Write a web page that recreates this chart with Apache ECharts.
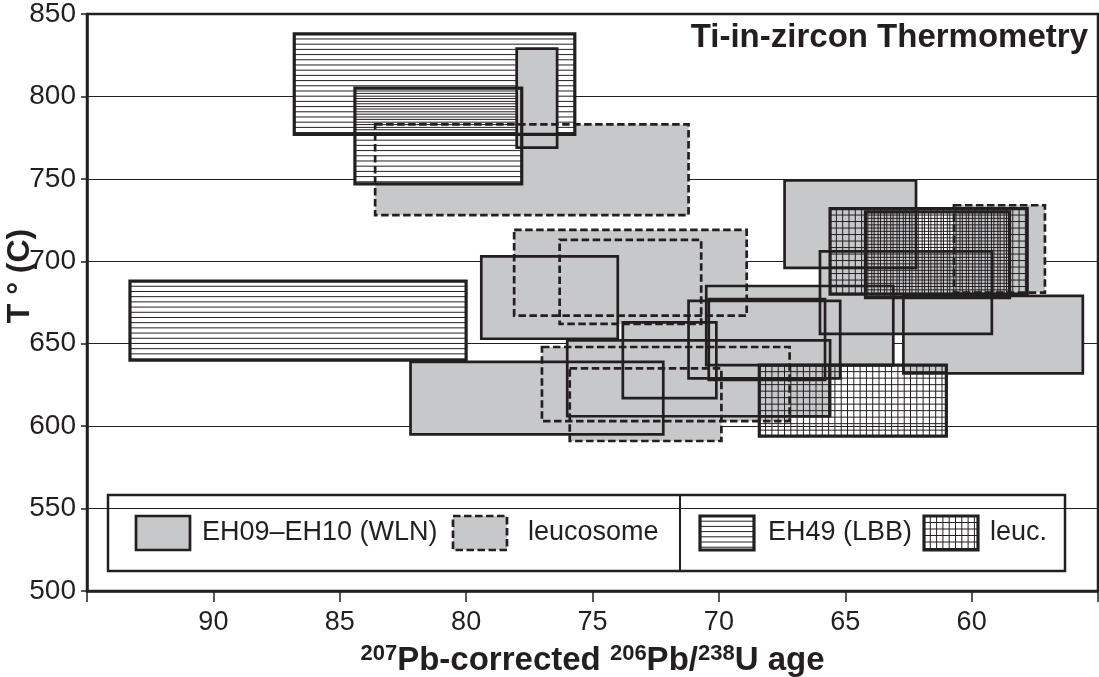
<!DOCTYPE html>
<html>
<head>
<meta charset="utf-8">
<script src="https://cdn.jsdelivr.net/npm/echarts@6/dist/echarts.min.js"></script>
<style>
  html, body { margin: 0; padding: 0; background: #fff; }
  #chart { width: 1099px; height: 677px; }
</style>
</head>
<body>
<div id="chart"></div>
<script>
// Ti-in-zircon temperature windows per zircon population:
// each entry is [youngest age, oldest age, T min, T max] (Ma, °C)
const wlnBoxes = [
  [76.4, 78.0, 769, 829],
  [62.2, 67.4, 696, 749],
  [74.0, 79.4, 653, 703],
  [72.2, 82.2, 595, 639],
  [65.6, 76.0, 606, 652],
  [70.1, 73.8, 617, 663],
  [65.2, 71.2, 629, 676],
  [63.1, 70.5, 637, 685],
  [65.8, 70.4, 628, 677],
  [59.2, 66.0, 656, 706],
  [55.6, 62.7, 632, 679]
];
const wlnLeucosomeBoxes = [
  [71.2, 83.6, 728, 783],
  [68.9, 78.1, 667, 719],
  [70.7, 76.3, 662, 713],
  [67.2, 77.0, 603, 648],
  [69.9, 75.9, 591, 635],
  [57.1, 60.7, 681, 734]
];
const lbbBoxes = [
  [75.7, 86.8, 777, 838],
  [77.8, 84.4, 747, 805],
  [80.0, 93.3, 640, 688]
];
const lbbLeucosomeBoxes = [
  [61.0, 68.4, 594, 637],
  [57.8, 65.6, 680, 732],
  [58.5, 64.2, 678, 730]
];

// axis ticks
const ageTicks = [90, 85, 80, 75, 70, 65, 60];
const tempTicks = [500, 550, 600, 650, 700, 750, 800, 850];

const legendLabels = ['EH09–EH10 (WLN)', 'leucosome', 'EH49 (LBB)', 'leuc.'];

const INK = '#231f20';
const GRAY = '#c7c8ca';
const FONT = '"Liberation Sans", Arial, sans-serif';

// hatch line helpers (pixel space)
function hatchLines(r, stepX, stepY, z2) {
  const out = [];
  if (stepY) {
    for (let y = r.y + stepY; y < r.y + r.height - 1; y += stepY) {
      out.push({ type: 'line', z2: z2, silent: true,
        shape: { x1: r.x, y1: y, x2: r.x + r.width, y2: y },
        style: { stroke: INK, lineWidth: 1 } });
    }
  }
  if (stepX) {
    for (let x = r.x + stepX; x < r.x + r.width - 1; x += stepX) {
      out.push({ type: 'line', z2: z2, silent: true,
        shape: { x1: x, y1: r.y, x2: x, y2: r.y + r.height },
        style: { stroke: INK, lineWidth: 1 } });
    }
  }
  return out;
}

// fill + outline of one box; z2 keeps all outlines above all fills
function boxElements(r, kind) {
  const els = [];
  if (kind === 'solid') {
    els.push({ type: 'rect', z2: 4, shape: r, style: { fill: GRAY } });
  } else if (kind === 'dashed') {
    els.push({ type: 'rect', z2: 1, shape: r, style: { fill: GRAY } });
  } else if (kind === 'hatch') {
    els.push({ type: 'rect', z2: 2, shape: r, style: { fill: '#fff' } });
    els.push.apply(els, hatchLines(r, 0, 5.2, 3));
  } else if (kind === 'grid') {
    els.push.apply(els, hatchLines(r, 6.3, 6.5, 5));
  }
  els.push({ type: 'rect', z2: 10, shape: r, style: {
    fill: 'none', stroke: INK,
    lineWidth: (kind === 'hatch' || kind === 'grid') ? 3.2 : 2.7,
    lineDash: kind === 'dashed' ? [7.5, 3.5] : null
  } });
  return els;
}

function boxSeries(name, data, kind) {
  return {
    type: 'custom',
    name: name,
    data: data,
    clip: true,
    renderItem: function (params, api) {
      const a = api.coord([api.value(0), api.value(3)]);
      const b = api.coord([api.value(1), api.value(2)]);
      const r = {
        x: Math.min(a[0], b[0]), y: Math.min(a[1], b[1]),
        width: Math.abs(a[0] - b[0]), height: Math.abs(a[1] - b[1])
      };
      return { type: 'group', children: boxElements(r, kind) };
    }
  };
}

// legend panel
const legendBox = { x: 108, y: 495, width: 957, height: 76 };
const legendDivider = 680;
const legendKinds = ['solid', 'dashed', 'hatch', 'grid'];
const swatchX = [136, 453, 700, 924];
const labelX = [202, 528, 768, 990];

function legendGraphics() {
  const children = [];
  children.push({ type: 'rect', shape: legendBox, style: { fill: '#fff', stroke: INK, lineWidth: 2.5 } });
  children.push({ type: 'line', shape: { x1: legendDivider, y1: legendBox.y, x2: legendDivider, y2: legendBox.y + legendBox.height },
    style: { stroke: INK, lineWidth: 2 } });
  legendLabels.forEach(function (label, i) {
    const r = { x: swatchX[i], y: 516, width: 54, height: 34 };
    boxElements(r, legendKinds[i]).forEach(function (el) { children.push(el); });
    children.push({ type: 'text', x: labelX[i], y: 533,
      style: { text: label, fill: INK, font: 'normal 27px ' + FONT, textAlign: 'left', textVerticalAlign: 'middle' } });
  });
  return { type: 'group', z: 100, children: children };
}

const chart = echarts.init(document.getElementById('chart'), null, { renderer: 'canvas' });

chart.setOption({
  animation: false,
  backgroundColor: '#fff',
  title: {
    text: 'Ti-in-zircon Thermometry',
    right: 11,
    top: 21,
    padding: 0,
    textStyle: { fontFamily: FONT, fontWeight: 'bold', fontSize: 33, color: INK }
  },
  grid: {
    left: 87, right: 1, top: 14, bottom: 86,
    containLabel: false,
    outerBoundsMode: 'none',
    show: true, borderColor: INK, borderWidth: 2.5, backgroundColor: 'transparent'
  },
  xAxis: {
    type: 'value',
    inverse: true,
    min: 55, max: 95, interval: 5,
    name: '{sup|207}{b|Pb-corrected }{sup|206}{b|Pb/}{sup|238}{b|U age}',
    nameLocation: 'middle',
    nameGap: 52,
    nameTextStyle: {
      rich: {
        b: { fontFamily: FONT, fontWeight: 'bold', fontSize: 33, color: INK, lineHeight: 36 },
        sup: { fontFamily: FONT, fontWeight: 'bold', fontSize: 22, color: INK, lineHeight: 22, verticalAlign: 'top' }
      }
    },
    axisLine: { show: true, onZero: false, lineStyle: { color: INK, width: 2.5 } },
    axisTick: { show: true, inside: false, length: 11, lineStyle: { color: INK, width: 1.5 } },
    axisLabel: {
      margin: 18,
      fontFamily: FONT, fontSize: 27, color: INK,
      formatter: function (v) { return ageTicks.indexOf(v) >= 0 ? String(v) : ''; }
    },
    splitLine: { show: false }
  },
  yAxis: {
    type: 'value',
    min: 500, max: 850, interval: 50,
    axisLine: { show: true, onZero: false, lineStyle: { color: INK, width: 2.5 } },
    axisTick: { show: true, inside: false, length: 6, lineStyle: { color: INK, width: 1.5 } },
    axisLabel: {
      margin: 11,
      fontFamily: FONT, fontSize: 28, color: INK,
      formatter: function (v) { return tempTicks.indexOf(v) >= 0 ? String(v) : ''; }
    },
    splitLine: { show: true, lineStyle: { color: INK, width: 1.2 } }
  },
  graphic: [
    {
      type: 'text',
      x: 20, y: 276,
      rotation: Math.PI / 2,
      style: { text: 'T ° (C)', fill: INK, font: 'bold 32px ' + FONT, textAlign: 'center', textVerticalAlign: 'middle' }
    },
    legendGraphics()
  ],
  series: [
    boxSeries('leucosome', wlnLeucosomeBoxes, 'dashed'),
    boxSeries('EH49 (LBB)', lbbBoxes, 'hatch'),
    boxSeries('EH09–EH10 (WLN)', wlnBoxes, 'solid'),
    boxSeries('leuc.', lbbLeucosomeBoxes, 'grid')
  ]
});
</script>
</body>
</html>
